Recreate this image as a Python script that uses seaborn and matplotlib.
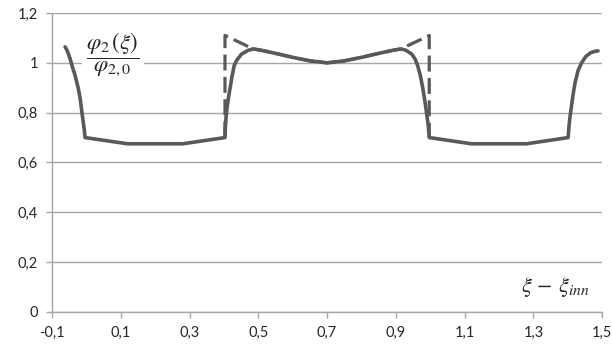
import numpy as np
import pandas as pd
import matplotlib
matplotlib.use('Agg')
import matplotlib.pyplot as plt
from matplotlib.ticker import FuncFormatter
import seaborn as sns

sns.set_style("ticks")
plt.rcParams['font.family'] = ['Lato', 'DejaVu Sans']
plt.rcParams['mathtext.fontset'] = 'stix'

# == solid curve (phi_2 / phi_2,0)
x_solid = [-0.062, -0.058, -0.052, -0.046, -0.04, -0.033, -0.024, -0.018, -0.013,
           -0.009, -0.006, -0.004,
           0.12, 0.28, 0.403,
           0.404, 0.406, 0.409, 0.413, 0.418, 0.424, 0.43, 0.437, 0.451, 0.47, 0.485,
           0.51, 0.55, 0.6, 0.65, 0.7, 0.75, 0.8, 0.85, 0.89,
           0.915, 0.93, 0.946, 0.956, 0.963, 0.971, 0.978, 0.985, 0.99, 0.994, 0.997,
           1.12, 1.28, 1.401,
           1.403, 1.406, 1.41, 1.415, 1.421, 1.43, 1.44, 1.452, 1.466, 1.478, 1.488]
y_solid = [1.064, 1.055, 1.035, 1.01, 0.98, 0.95, 0.9, 0.855, 0.8,
           0.76, 0.73, 0.7,
           0.675, 0.675, 0.7,
           0.74, 0.78, 0.82, 0.86, 0.9, 0.95, 0.99, 1.01, 1.035, 1.05, 1.056,
           1.05, 1.038, 1.022, 1.008, 1.0, 1.008, 1.022, 1.038, 1.05,
           1.056, 1.05, 1.035, 1.015, 0.99, 0.95, 0.9, 0.84, 0.79, 0.75, 0.7,
           0.675, 0.675, 0.7,
           0.74, 0.78, 0.82, 0.87, 0.92, 0.97, 1.0, 1.025, 1.04, 1.046, 1.048]

# == dashed curve
x_dash = [0.403, 0.403, 0.485, 0.51, 0.55, 0.6, 0.65, 0.7, 0.75, 0.8, 0.85, 0.89,
          0.915, 0.997, 0.997]
y_dash = [0.7, 1.11, 1.056, 1.05, 1.038, 1.022, 1.008, 1.0, 1.008, 1.022, 1.038, 1.05,
          1.056, 1.11, 0.7]

x_ticks = [-0.1, 0.1, 0.3, 0.5, 0.7, 0.9, 1.1, 1.3, 1.5]
y_ticks = [0, 0.2, 0.4, 0.6, 0.8, 1.0, 1.2]

df_solid = pd.DataFrame({'x': x_solid, 'y': y_solid})
df_dash = pd.DataFrame({'x': x_dash, 'y': y_dash})

line_col = '#595959'
grid_col = '#a6a6a6'

fig = plt.figure(figsize=(6.12, 3.47), dpi=100)
ax = fig.add_axes([0.085, 0.101, 0.899, 0.8615])

sns.lineplot(data=df_dash, x='x', y='y', sort=False, ax=ax, color=line_col,
             lw=2.3, estimator=None)
ax.lines[-1].set_dashes([5, 2])
sns.lineplot(data=df_solid, x='x', y='y', sort=False, ax=ax, color=line_col,
             lw=2.6, estimator=None)
for ln in ax.lines:
    ln.set_solid_joinstyle('round')

ax.set_xlim(-0.1, 1.5)
ax.set_ylim(0, 1.2)
ax.set_xticks(x_ticks)
ax.set_yticks(y_ticks)
fmt = FuncFormatter(lambda v, p: ('%g' % round(v, 2)).replace('.', ','))
ax.xaxis.set_major_formatter(fmt)
ax.yaxis.set_major_formatter(fmt)
ax.yaxis.grid(True, color=grid_col, lw=1.0)
ax.set_axisbelow(True)
for s in ['top', 'right']:
    ax.spines[s].set_visible(False)
for s in ['left', 'bottom']:
    ax.spines[s].set_color(grid_col)
    ax.spines[s].set_linewidth(1.0)
ax.tick_params(axis='both', colors=grid_col, labelcolor='#262626', labelsize=10.5,
               length=4, width=1.0, pad=6)
ax.set_xlabel('')
ax.set_ylabel('')

ax.text(0.078, 1.035, r'$\dfrac{\varphi_2\,(\xi)}{\varphi_{2,0}}$', fontsize=16.5,
        ha='center', va='center', color='#262626',
        bbox=dict(facecolor='white', edgecolor='none', pad=3))
ax.text(1.365, 0.1, r'$\xi\,-\,\xi_{inn}$', fontsize=16, ha='center', va='center',
        color='#262626')

plt.savefig('out.png', dpi=100)
plt.close()
